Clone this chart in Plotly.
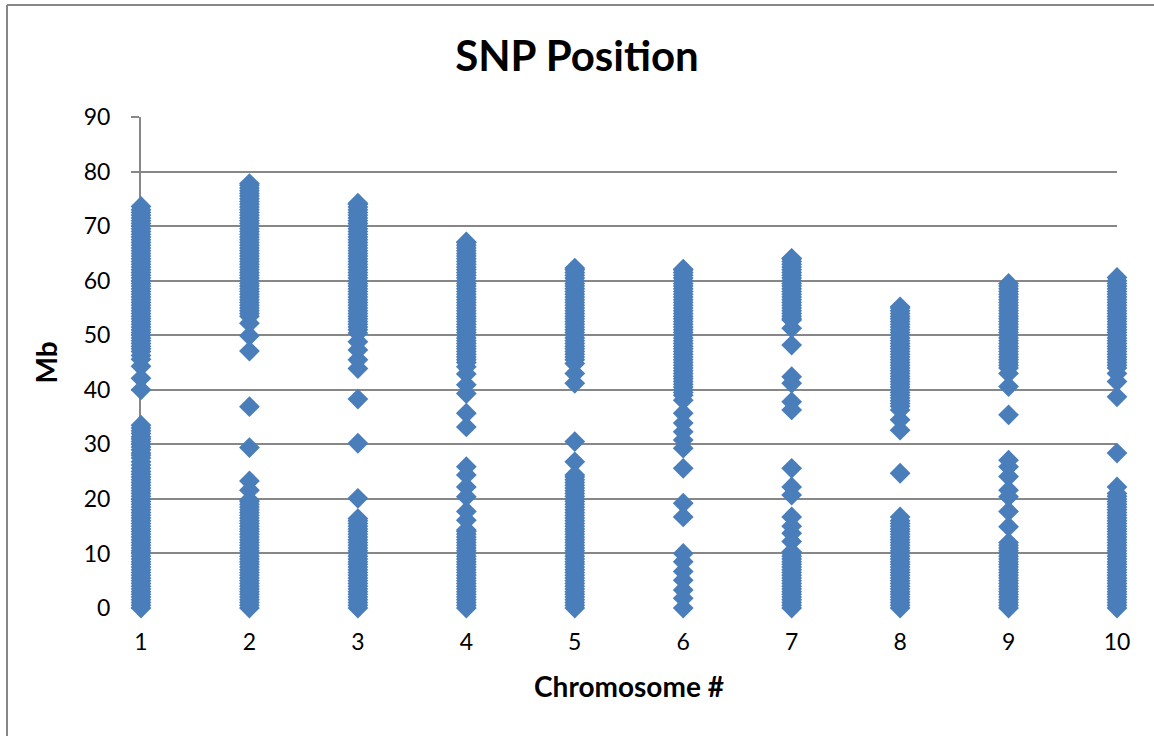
import plotly.graph_objects as go

# Chromosome numbers (x categories)
chromosomes = [1, 2, 3, 4, 5, 6, 7, 8, 9, 10]

# SNP positions in Mb, one list per chromosome
chr1_mb = [0, 0.5, 1, 1.5, 2, 2.5, 3, 3.5, 4, 4.5, 5, 5.5, 6, 6.5, 7, 7.5, 8, 8.5,
           9, 9.5, 10, 10.5, 11, 11.5, 12, 12.5, 13, 13.5, 14, 14.5, 15, 15.5, 16,
           16.5, 17, 17.5, 18, 18.5, 19, 19.5, 20, 20.5, 21, 21.5, 22, 22.5, 23,
           23.5, 24, 24.5, 25.0, 25.6, 26.2, 26.8, 27.5, 28.0, 28.4, 29.0, 29.5,
           30.0, 30.5, 31.0, 31.4, 32.0, 32.5, 33.0, 33.5,
           40.0, 42.1, 44.3, 45.6, 46.3, 47, 47.5, 48, 48.5, 49, 49.5, 50, 50.5,
           51, 51.5, 52, 52.5, 53, 53.5, 54, 54.5, 55, 55.5, 56, 56.5, 57, 57.5,
           58, 58.5, 59, 59.5, 60, 60.5, 61, 61.5, 62, 62.5, 63, 63.5, 64, 64.5,
           65, 65.5, 66, 66.5, 67, 67.5, 68, 68.5, 69, 69.5, 70, 70.5, 71, 71.5,
           72, 72.5, 73, 73.6]
chr2_mb = [0, 0.5, 1, 1.5, 2, 2.5, 3, 3.5, 4, 4.5, 5, 5.5, 6, 6.5, 7, 7.5, 8, 8.5,
           9, 9.5, 10, 10.5, 11, 11.5, 12, 12.5, 13, 13.5, 14, 14.5, 15, 15.5, 16,
           16.5, 17, 17.5, 18, 18.5, 19, 19.5, 19.8, 21.6, 23.3, 29.4, 36.9, 47.1,
           49.9, 52.2, 53.5, 54, 54.5, 55, 55.5, 56, 56.5, 57, 57.5, 58, 58.5, 59,
           59.5, 60, 60.5, 61, 61.5, 62, 62.5, 63, 63.5, 64, 64.5, 65, 65.5, 66,
           66.5, 67, 67.5, 68, 68.5, 69, 69.5, 70, 70.5, 71, 71.5, 72, 72.5, 73,
           73.5, 74, 74.5, 75, 75.5, 76, 76.5, 77, 77.5, 77.8]
chr3_mb = [0, 0.5, 1, 1.5, 2, 2.5, 3, 3.5, 4, 4.5, 5, 5.5, 6, 6.5, 7, 7.5, 8, 8.5,
           9, 9.5, 10, 10.5, 11, 11.5, 12, 12.5, 13, 13.5, 14, 14.5, 15, 15.5, 16,
           16.4, 20.1, 30.2, 38.3, 43.9, 45.5, 47.3, 48.8, 50.4, 51, 51.5, 52,
           52.5, 53, 53.5, 54, 54.5, 55, 55.5, 56, 56.5, 57, 57.5, 58, 58.5, 59,
           59.5, 60, 60.5, 61, 61.5, 62, 62.5, 63, 63.5, 64, 64.5, 65, 65.5, 66,
           66.5, 67, 67.5, 68, 68.5, 69, 69.5, 70, 70.5, 71, 71.5, 72, 72.5, 73,
           73.5, 74, 74.2]
chr4_mb = [0, 0.5, 1, 1.5, 2, 2.5, 3, 3.5, 4, 4.5, 5, 5.5, 6, 6.5, 7, 7.5, 8, 8.5,
           9, 9.5, 10, 10.5, 11, 11.5, 12, 12.5, 13, 13.5, 14, 14.3, 16.1, 17.7,
           20.4, 22.2, 24.4, 25.9, 33.2, 35.7, 39.3, 40.9, 42.9, 44.2, 45, 45.5,
           46, 46.5, 47, 47.5, 48, 48.5, 49, 49.5, 50, 50.5, 51, 51.5, 52, 52.5,
           53, 53.5, 54, 54.5, 55, 55.5, 56, 56.5, 57, 57.5, 58, 58.5, 59, 59.5,
           60, 60.5, 61, 61.5, 62, 62.5, 63, 63.5, 64, 64.5, 65, 65.5, 66, 66.5,
           67, 67.1]
chr5_mb = [0, 0.5, 1, 1.5, 2, 2.5, 3, 3.5, 4, 4.5, 5, 5.5, 6, 6.5, 7, 7.5, 8, 8.5,
           9, 9.5, 10, 10.5, 11, 11.5, 12, 12.5, 13, 13.5, 14, 14.5, 15, 15.5, 16,
           16.5, 17, 17.5, 18, 18.5, 19, 19.5, 20, 20.5, 21, 21.5, 22, 22.5, 23,
           23.5, 24, 24.4, 26.8, 30.5, 41.2, 43.0, 44.8, 45.5, 46, 46.5, 47, 47.5,
           48, 48.5, 49, 49.5, 50, 50.5, 51, 51.5, 52, 52.5, 53, 53.5, 54, 54.5,
           55, 55.5, 56, 56.5, 57, 57.5, 58, 58.5, 59, 59.5, 60, 60.5, 61, 61.5,
           62, 62.3]
chr6_mb = [0, 1.8, 3.3, 5.1, 6.7, 8.5, 10.0, 16.7, 19.2, 25.6, 29.3, 30.8, 32.3,
           33.9, 35.7, 38.1, 39, 39.5, 40, 40.5, 41, 41.5, 42, 42.5, 43, 43.5, 44,
           44.5, 45, 45.5, 46, 46.5, 47, 47.5, 48, 48.5, 49, 49.5, 50, 50.5, 51,
           51.5, 52, 52.5, 53, 53.5, 54, 54.5, 55, 55.5, 56, 56.5, 57, 57.5, 58,
           58.5, 59, 59.5, 60, 60.5, 61, 61.5, 62, 62.1]
chr7_mb = [0, 0.5, 1, 1.5, 2, 2.5, 3, 3.5, 4, 4.5, 5, 5.5, 6, 6.5, 7, 7.5, 8, 8.5,
           9, 9.5, 10, 10.3, 12.2, 13.7, 15.0, 16.7, 20.7, 22.2, 25.6, 36.3, 37.8,
           41.2, 42.4, 48.2, 51.3, 52.8, 53, 53.5, 54, 54.5, 55, 55.5, 56, 56.5,
           57, 57.5, 58, 58.5, 59, 59.5, 60, 60.5, 61, 61.5, 62, 62.5, 63, 63.5,
           64, 64.1]
chr8_mb = [0, 0.5, 1, 1.5, 2, 2.5, 3, 3.5, 4, 4.5, 5, 5.5, 6, 6.5, 7, 7.5, 8, 8.5,
           9, 9.5, 10, 10.5, 11, 11.5, 12, 12.5, 13, 13.5, 14, 14.5, 15, 15.5, 16,
           16.7, 24.7, 32.6, 34.5, 36.3, 37, 37.5, 38, 38.5, 39, 39.5, 40, 40.5,
           41, 41.5, 42, 42.5, 43, 43.5, 44, 44.5, 45, 45.5, 46, 46.5, 47, 47.5,
           48, 48.5, 49, 49.5, 50, 50.5, 51, 51.5, 52, 52.5, 53, 53.5, 54, 54.5,
           55, 55.2]
chr9_mb = [0, 0.5, 1, 1.5, 2, 2.5, 3, 3.5, 4, 4.5, 5, 5.5, 6, 6.5, 7, 7.5, 8, 8.5,
           9, 9.5, 10, 10.5, 11, 11.5, 12, 14.9, 17.7, 20.4, 21.6, 24.1, 25.9,
           27.1, 35.4, 40.6, 43.0, 44, 44.5, 45, 45.5, 46, 46.5, 47, 47.5, 48,
           48.5, 49, 49.5, 50, 50.5, 51, 51.5, 52, 52.5, 53, 53.5, 54, 54.5, 55,
           55.5, 56, 56.5, 57, 57.5, 58, 58.5, 59, 59.5]
chr10_mb = [0, 0.5, 1, 1.5, 2, 2.5, 3, 3.5, 4, 4.5, 5, 5.5, 6, 6.5, 7, 7.5, 8, 8.5,
            9, 9.5, 10, 10.5, 11, 11.5, 12, 12.5, 13, 13.5, 14, 14.5, 15, 15.5,
            16, 16.5, 17, 17.5, 18, 18.5, 19, 19.5, 20, 20.5, 21.0, 22.2, 28.4,
            38.7, 41.5, 43.0, 44, 44.5, 45, 45.5, 46, 46.5, 47, 47.5, 48, 48.5,
            49, 49.5, 50, 50.5, 51, 51.5, 52, 52.5, 53, 53.5, 54, 54.5, 55, 55.5,
            56, 56.5, 57, 57.5, 58, 58.5, 59, 59.5, 60, 60.6]

y_ticks = [0, 10, 20, 30, 40, 50, 60, 70, 80, 90]

all_mb = [chr1_mb, chr2_mb, chr3_mb, chr4_mb, chr5_mb,
          chr6_mb, chr7_mb, chr8_mb, chr9_mb, chr10_mb]

xs, ys = [], []
for c, vals in zip(chromosomes, all_mb):
    xs.extend([c] * len(vals))
    ys.extend(vals)

FONT = "Lato"
GRID = "#878787"

fig = go.Figure()
fig.add_trace(go.Scatter(
    x=xs, y=ys, mode="markers",
    marker=dict(symbol="diamond", size=16, color="#4A7EBB", line=dict(width=0)),
    cliponaxis=False, showlegend=False, hoverinfo="x+y",
))

fig.update_layout(
    width=1154, height=736,
    margin=dict(l=141, r=37, t=117, b=128),
    paper_bgcolor="white", plot_bgcolor="white",
    font=dict(family=FONT, color="#000000"),
    title=dict(text="<b>SNP Position</b>", x=0.5, xanchor="center",
               y=1 - 56 / 736, yanchor="middle",
               font=dict(family=FONT, size=42, color="#000000")),
    xaxis=dict(range=[1, 10], tickmode="array", tickvals=chromosomes,
               ticktext=[str(c) for c in chromosomes],
               showgrid=False, zeroline=False, showline=False,
               ticks="", ticklabelstandoff=18, layer="below traces",
               tickfont=dict(family=FONT, size=23),
               title=dict(text="<b>Chromosome #</b>", standoff=23,
                          font=dict(family=FONT, size=28))),
    yaxis=dict(range=[0, 90], tickmode="array", tickvals=y_ticks,
               showgrid=True, gridcolor=GRID, gridwidth=2,
               zeroline=False, showline=True, linecolor=GRID, linewidth=2,
               ticks="outside", ticklen=8, tickcolor=GRID, tickwidth=2,
               ticklabelstandoff=16, layer="below traces",
               tickfont=dict(family=FONT, size=23),
               title=dict(text="<b>Mb</b>", standoff=18,
                          font=dict(family=FONT, size=28))),
)

# outer chart border (left and top edges visible)
px0 = (7 - 141) / 976
py0 = (608 - 5) / 491
fig.add_shape(type="line", xref="paper", yref="paper",
              x0=px0, x1=px0, y0=py0, y1=-0.4,
              line=dict(color=GRID, width=2))
fig.add_shape(type="line", xref="paper", yref="paper",
              x0=px0, x1=1.2, y0=py0, y1=py0,
              line=dict(color=GRID, width=2))

fig.write_html(
    "out.html",
    config={"displayModeBar": False},
    post_script="document.body.style.margin='0';document.body.style.overflow='hidden';",
)
